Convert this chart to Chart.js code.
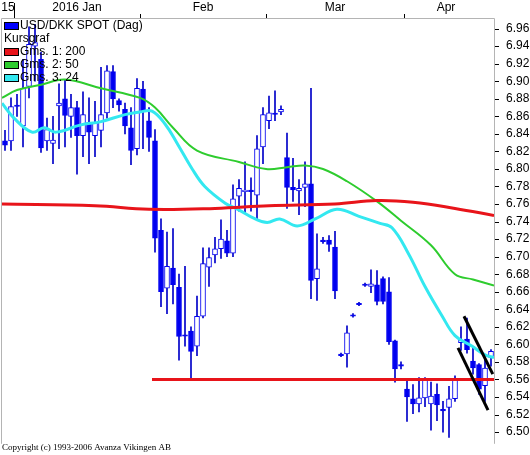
<!DOCTYPE html>
<html>
<head>
<meta charset="utf-8">
<script src="https://cdn.jsdelivr.net/npm/chart.js@4"></script>
<style>
  html, body { margin: 0; padding: 0; background: #fff; }
  #wrap { width: 530px; height: 455px; }
</style>
</head>
<body>
<div id="wrap"><canvas id="chart" width="530" height="455"></canvas></div>
<script>
// daily candles, index 0..81
const opens = [6.832,6.832,6.872,6.849,6.894,6.940,6.925,6.832,6.829,6.872,6.880,6.860,6.870,6.838,6.853,6.838,6.844,6.864,6.911,6.878,
  6.868,6.847,6.823,6.891,6.855,6.832,6.730,6.664,6.687,6.665,6.610,6.615,6.598,6.632,6.688,6.702,6.709,6.718,6.704,6.769,
  6.774,6.775,6.770,6.825,6.855,6.863,6.865,6.813,6.779,6.775,6.779,6.783,6.675,6.718,6.719,6.711,6.588,6.589,6.633,6.646,
  6.668,6.666,6.668,6.675,6.660,6.604,6.576,6.549,6.538,6.532,6.539,6.532,6.543,6.525,6.528,6.538,6.602,6.606,6.581,6.577,
  6.553,6.585];
const closes = [6.827,6.871,6.872,6.892,6.942,6.944,6.824,6.845,6.833,6.875,6.861,6.870,6.838,6.862,6.842,6.853,6.862,6.912,6.880,6.873,
  6.849,6.821,6.892,6.865,6.836,6.721,6.660,6.689,6.668,6.609,6.610,6.592,6.632,6.692,6.699,6.709,6.720,6.704,6.766,6.778,
  6.776,6.775,6.823,6.862,6.864,6.863,6.868,6.779,6.776,6.778,6.783,6.673,6.686,6.718,6.714,6.661,6.588,6.613,6.633,6.646,
  6.668,6.669,6.649,6.649,6.603,6.572,6.576,6.540,6.532,6.539,6.560,6.541,6.531,6.525,6.538,6.560,6.605,6.594,6.573,6.549,
  6.573,6.592];
const highs = [6.844,6.881,6.885,6.925,6.962,6.965,6.933,6.858,6.860,6.897,6.901,6.885,6.877,6.888,6.881,6.877,6.916,6.918,6.918,6.880,
  6.875,6.870,6.903,6.900,6.870,6.845,6.743,6.728,6.732,6.680,6.689,6.620,6.655,6.710,6.710,6.722,6.742,6.730,6.782,6.788,
  6.808,6.790,6.838,6.870,6.883,6.889,6.872,6.841,6.812,6.788,6.808,6.892,6.726,6.722,6.724,6.729,6.590,6.621,6.635,6.648,
  6.670,6.685,6.684,6.677,6.676,6.605,6.580,6.560,6.554,6.562,6.562,6.557,6.555,6.535,6.552,6.564,6.620,6.630,6.596,6.578,
  6.585,6.594];
const lows = [6.821,6.821,6.860,6.825,6.881,6.900,6.819,6.821,6.806,6.823,6.825,6.836,6.794,6.814,6.806,6.814,6.825,6.858,6.870,6.866,
  6.840,6.805,6.816,6.823,6.820,6.705,6.643,6.635,6.646,6.582,6.598,6.562,6.587,6.630,6.666,6.693,6.698,6.700,6.700,6.752,
  6.750,6.752,6.743,6.806,6.846,6.855,6.862,6.755,6.763,6.748,6.757,6.652,6.650,6.715,6.706,6.652,6.586,6.574,6.631,6.644,
  6.666,6.659,6.645,6.646,6.600,6.557,6.572,6.512,6.521,6.523,6.529,6.502,6.513,6.500,6.494,6.535,6.593,6.590,6.566,6.543,
  6.535,6.575];

// moving averages (read at sample indices)
const ma200 = [[-0.5,6.760],[15,6.758],[24,6.754],[35,6.755],[44,6.758],[55,6.760],[62,6.764],[68,6.762],[75,6.755],[81.5,6.747]];
const ma50 = [[-0.5,6.881],[2,6.890],[6,6.896],[10,6.902],[16,6.892],[22.5,6.881],[25,6.870],[28,6.847],[32,6.821],[39,6.808],
  [43.5,6.800],[47,6.802],[50,6.804],[53,6.800],[57,6.786],[62,6.763],[66,6.741],[71,6.713],[75,6.680],[78,6.674],[81.5,6.667]];
const ma24 = [[-0.5,6.875],[1.5,6.858],[4.5,6.842],[6.5,6.847],[8.5,6.842],[12.5,6.850],[16,6.854],[20,6.862],[22.5,6.865],[24.5,6.866],
  [26.7,6.851],[28.8,6.828],[31.2,6.800],[33.3,6.780],[36.7,6.761],[38.8,6.754],[41.7,6.743],[43.7,6.739],[45.8,6.743],[48.7,6.735],
  [51.7,6.743],[55.3,6.754],[59,6.746],[62.5,6.738],[64.5,6.733],[67.2,6.704],[70,6.666],[72.8,6.633],[75,6.610],[77.8,6.598],[80,6.588],[81.5,6.585]];

const supportLine = [[24.5,6.56],[81.5,6.56]];
const trendUpper = [[76.5,6.632],[81.3,6.566]];
const trendLower = [[75.5,6.596],[80.5,6.525]];

const yTicks = [6.50,6.52,6.54,6.56,6.58,6.60,6.62,6.64,6.66,6.68,6.70,6.72,6.74,6.76,6.78,6.80,6.82,6.84,6.86,6.88,6.90,6.92,6.94,6.96];
const monthLabels = [[0.5,'15'],[12,'2016 Jan'],[33,'Feb'],[55,'Mar'],[73.5,'Apr']];
const monthTicks = [1.5,22.5,43.5,66.5];

const legendItems = [
  ['USD/DKK SPOT (Dag)', '#0000ff'],
  ['Kursgraf', null],
  ['Gms. 1: 200', '#e8141a'],
  ['Gms. 2: 50', '#2ecc2e'],
  ['Gms. 3: 24', '#33e8f0']
];

const blue = '#0000f0';
const pts = a => a.map(p => ({x: p[0], y: p[1]}));

const wicks = highs.map((h, i) => ({x: i, y: [lows[i], h]}));
const bodies = opens.map((o, i) => {
  const c = closes[i];
  if (Math.abs(o - c) < 0.0015) return {x: i, y: [o - 0.0008, o + 0.0008]};
  return {x: i, y: [o, c]};
});
const isDown = i => closes[i] < opens[i] || Math.abs(closes[i] - opens[i]) < 0.0015;

const extras = {
  id: 'extras',
  afterDraw(chart) {
    const c = chart.ctx, xs = chart.scales.x, area = chart.chartArea;
    c.save();
    // frame
    c.strokeStyle = '#b4b4b4';
    c.lineWidth = 1;
    c.beginPath();
    c.moveTo(area.left - 0.5, area.bottom);
    c.lineTo(area.left - 0.5, area.top - 0.5);
    c.lineTo(area.right + 0.5, area.top - 0.5);
    c.lineTo(area.right + 0.5, area.bottom);
    c.stroke();
    // top month axis
    c.fillStyle = '#000';
    c.font = '12px "Liberation Sans", Arial, sans-serif';
    c.textAlign = 'center';
    c.textBaseline = 'top';
    monthLabels.forEach(m => c.fillText(m[1], xs.getPixelForValue(m[0]), 2));
    c.strokeStyle = '#000';
    monthTicks.forEach((t, k) => {
      const px = Math.round(xs.getPixelForValue(t)) + 0.5;
      c.beginPath();
      c.moveTo(px, k === 0 ? 3 : 14);
      c.lineTo(px, area.top - 1);
      c.stroke();
    });
    // legend
    c.textAlign = 'left';
    c.textBaseline = 'middle';
    legendItems.forEach((it, k) => {
      const y = area.top + 7 + k * 13;
      let tx = 4;
      if (it[1]) {
        c.fillStyle = it[1];
        c.fillRect(4, y - 3, 14, 7);
        c.strokeStyle = '#000';
        c.strokeRect(4.5, y - 3.5, 14, 7);
        tx = 20;
      }
      c.fillStyle = '#000';
      c.fillText(it[0], tx, y);
    });
    // copyright
    c.font = '9px "Liberation Serif", "DejaVu Serif", serif';
    c.textBaseline = 'bottom';
    c.fillText('Copyright (c) 1993-2006 Avanza Vikingen AB', 2, 452);
    c.restore();
  }
};

new Chart(document.getElementById('chart').getContext('2d'), {
  data: {
    datasets: [
      { type: 'line', label: 'Gms. 1: 200', data: pts(ma200), borderColor: '#e8141a', borderWidth: 3, pointRadius: 0, tension: 0.4, order: 1 },
      { type: 'line', label: 'support', data: pts(supportLine), borderColor: '#e8141a', borderWidth: 3, pointRadius: 0, order: 1 },
      { type: 'line', label: 'Gms. 2: 50', data: pts(ma50), borderColor: '#2ecc2e', borderWidth: 2, pointRadius: 0, tension: 0.4, order: 1 },
      { type: 'line', label: 'Gms. 3: 24', data: pts(ma24), borderColor: '#33e8f0', borderWidth: 3, pointRadius: 0, tension: 0.4, order: 1 },
      { type: 'line', label: 'trend1', data: pts(trendUpper), borderColor: '#000', borderWidth: 3, pointRadius: 0, order: 0 },
      { type: 'line', label: 'trend2', data: pts(trendLower), borderColor: '#000', borderWidth: 3, pointRadius: 0, order: 0 },
      { type: 'bar', label: 'wick', data: wicks, backgroundColor: '#0000c8', barThickness: 1, grouped: false, order: 3 },
      { type: 'bar', label: 'USD/DKK SPOT (Dag)', data: bodies, grouped: false, barThickness: 5, order: 2,
        backgroundColor: ctx => isDown(ctx.dataIndex) ? blue : '#ffffff',
        borderColor: blue, borderWidth: 1, borderSkipped: false }
    ]
  },
  options: {
    responsive: false,
    animation: false,
    layout: { padding: { top: 19, left: 2, bottom: 2, right: 0 } },
    plugins: { legend: { display: false }, tooltip: { enabled: false } },
    scales: {
      x: { type: 'linear', min: -0.5, max: 81.5, offset: false, display: false },
      y: {
        position: 'right', min: 6.4866, max: 6.971,
        afterFit: s => { s.width = 36; },
        afterBuildTicks: s => { s.ticks = yTicks.map(v => ({value: v})); },
        grid: { display: false, drawTicks: true },
        border: { display: false },
        ticks: {
          color: '#000', padding: 4,
          font: { family: '"Liberation Sans", Arial, sans-serif', size: 12 },
          callback: v => v.toFixed(2)
        }
      }
    }
  },
  plugins: [extras, {
    id: 'ytickmarks',
    afterDraw(chart) {
      const c = chart.ctx, ys = chart.scales.y, r = chart.chartArea.right;
      c.save();
      c.strokeStyle = '#000';
      yTicks.forEach(v => {
        const py = Math.round(ys.getPixelForValue(v)) + 0.5;
        c.beginPath(); c.moveTo(r + 1, py); c.lineTo(r + 5, py); c.stroke();
      });
      c.restore();
    }
  }]
});
</script>
</body>
</html>
